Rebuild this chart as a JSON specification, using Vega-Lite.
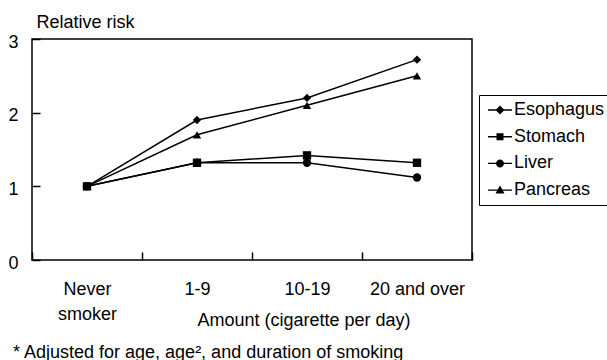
{
  "$schema": "https://vega.github.io/schema/vega-lite/v6.json",
  "width": 440,
  "height": 221,
  "autosize": {"type": "none"},
  "padding": {"left": 32, "top": 39, "right": 135, "bottom": 100},
  "background": "white",
  "config": {
    "font": "Liberation Sans",
    "view": {"stroke": "black", "strokeWidth": 1.5},
    "axis": {"domain": false, "grid": false, "tickColor": "black", "labelColor": "black", "titleColor": "black", "labelFont": "Liberation Sans", "titleFont": "Liberation Sans", "titleFontWeight": "normal"}
  },
  "title": {
    "text": "* Adjusted for age, age², and duration of smoking",
    "orient": "bottom",
    "anchor": "start",
    "frame": "bounds",
    "font": "Liberation Sans",
    "fontSize": 18,
    "fontWeight": "normal",
    "color": "black",
    "offset": 14,
    "dx": 5
  },
  "data": {
    "values": [
      {"amount": "Never smoker", "series": "Esophagus", "rr": 1.0},
      {"amount": "1-9", "series": "Esophagus", "rr": 1.9},
      {"amount": "10-19", "series": "Esophagus", "rr": 2.2},
      {"amount": "20 and over", "series": "Esophagus", "rr": 2.72},
      {"amount": "Never smoker", "series": "Stomach", "rr": 1.0},
      {"amount": "1-9", "series": "Stomach", "rr": 1.32},
      {"amount": "10-19", "series": "Stomach", "rr": 1.42},
      {"amount": "20 and over", "series": "Stomach", "rr": 1.32},
      {"amount": "Never smoker", "series": "Liver", "rr": 1.0},
      {"amount": "1-9", "series": "Liver", "rr": 1.32},
      {"amount": "10-19", "series": "Liver", "rr": 1.32},
      {"amount": "20 and over", "series": "Liver", "rr": 1.12},
      {"amount": "Never smoker", "series": "Pancreas", "rr": 1.0},
      {"amount": "1-9", "series": "Pancreas", "rr": 1.7},
      {"amount": "10-19", "series": "Pancreas", "rr": 2.1},
      {"amount": "20 and over", "series": "Pancreas", "rr": 2.5}
    ]
  },
  "encoding": {
    "x": {
      "field": "amount",
      "type": "nominal",
      "sort": ["Never smoker", "1-9", "10-19", "20 and over"],
      "scale": {"paddingInner": 0, "paddingOuter": 0},
      "axis": {
        "labelAngle": 0,
        "labelFontSize": 18,
        "labelExpr": "datum.label == 'Never smoker' ? ['Never', 'smoker'] : datum.label",
        "labelLineHeight": 25,
        "labelBaseline": "alphabetic",
        "labelPadding": 42,
        "tickBand": "extent",
        "tickSize": -8,
        "tickWidth": 1.5,
        "title": "Amount (cigarette per day)",
        "titleFontSize": 18,
        "titleAnchor": "start",
        "titleAlign": "center",
        "titleBaseline": "alphabetic",
        "titleX": 271.5,
        "titleY": 65.5
      }
    },
    "y": {
      "field": "rr",
      "type": "quantitative",
      "scale": {"domain": [0, 3], "nice": false, "zero": true},
      "axis": {
        "values": [0, 1, 2, 3],
        "labelFontSize": 18,
        "labelPadding": 22,
        "labelOffset": 3,
        "tickSize": -8,
        "tickWidth": 1.5,
        "title": "Relative risk",
        "titleFontSize": 18,
        "titleAngle": 0,
        "titleAlign": "left",
        "titleBaseline": "alphabetic",
        "titleAnchor": "start",
        "titleX": 4,
        "titleY": -11.5
      }
    }
  },
  "layer": [
    {
      "mark": {"type": "line", "color": "black", "strokeWidth": 1.5},
      "encoding": {"detail": {"field": "series", "type": "nominal"}}
    },
    {
      "mark": {"type": "point", "filled": true, "color": "black", "opacity": 1, "size": 70},
      "encoding": {
        "shape": {
          "field": "series",
          "type": "nominal",
          "scale": {"domain": ["Esophagus", "Stomach", "Liver", "Pancreas"], "range": ["diamond", "square", "circle", "triangle-up"]},
          "legend": null
        }
      }
    },
    {
      "transform": [{"filter": "datum.series == 'none'"}],
      "mark": {"type": "point", "filled": true, "color": "black", "opacity": 1},
      "encoding": {
        "shape": {
          "field": "series",
          "type": "nominal",
          "scale": {
            "domain": ["Esophagus", "Stomach", "Liver", "Pancreas"],
            "range": [
              "M-0.6,-0.07H1.8V0.07H-0.6ZM0.6,-0.45L1.05,0L0.6,0.45L0.15,0Z",
              "M-0.6,-0.07H1.8V0.07H-0.6ZM0.25,-0.35H0.95V0.35H0.25Z",
              "M-0.6,-0.07H1.8V0.07H-0.6ZM1.0,0A0.4,0.4 0 1,1 0.2,0A0.4,0.4 0 1,1 1.0,0Z",
              "M-0.6,-0.07H1.8V0.07H-0.6ZM0.6,-0.45L1.05,0.35L0.15,0.35Z"
            ]
          },
          "legend": {
            "title": null,
            "orient": "none",
            "legendX": 447,
            "legendY": 56,
            "padding": 5,
            "strokeColor": "black",
            "fillColor": "white",
            "labelFont": "Liberation Sans",
            "labelFontSize": 18,
            "labelColor": "black",
            "labelOffset": 10,
            "labelLimit": 200,
            "rowPadding": 7.7,
            "symbolSize": 400,
            "symbolFillColor": "black",
            "symbolStrokeColor": "black",
            "symbolStrokeWidth": 0,
            "symbolOpacity": 1,
            "encode": {
              "symbols": {
                "update": {
                  "fill": {"value": "black"},
                  "opacity": {"value": 1},
                  "size": {"value": 400}
                }
              }
            }
          }
        }
      }
    }
  ],
  "resolve": {"scale": {"shape": "independent"}, "legend": {"shape": "independent"}}
}
